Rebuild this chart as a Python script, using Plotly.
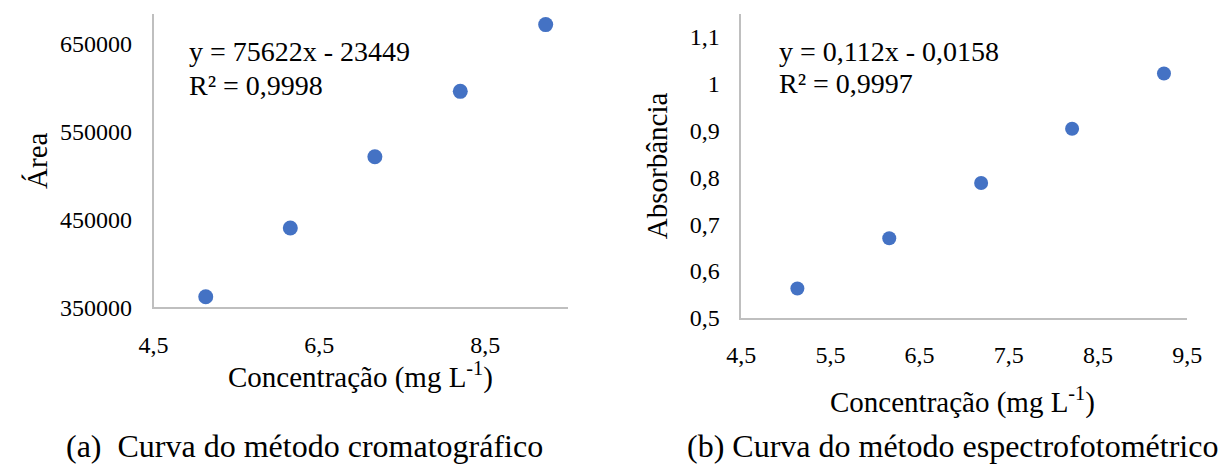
import plotly.graph_objects as go

# ---- data ----
conc_a = [5.13, 6.15, 7.17, 8.20, 9.23]
area_a = [362000, 440300, 521300, 595600, 671500]

conc_b = [5.13, 6.16, 7.19, 8.21, 9.24]
abs_b = [0.5625, 0.670, 0.788, 0.904, 1.022]

xticks_a = [4.5, 6.5, 8.5]
xtext_a = ["4,5", "6,5", "8,5"]
yticks_a = [350000, 450000, 550000, 650000]
ytext_a = ["350000", "450000", "550000", "650000"]

xticks_b = [4.5, 5.5, 6.5, 7.5, 8.5, 9.5]
xtext_b = ["4,5", "5,5", "6,5", "7,5", "8,5", "9,5"]
yticks_b = [0.5, 0.6, 0.7, 0.8, 0.9, 1.0, 1.1]
ytext_b = ["0,5", "0,6", "0,7", "0,8", "0,9", "1", "1,1"]

eq_a = ["y = 75622x - 23449", "R² = 0,9998"]
eq_b = ["y = 0,112x - 0,0158", "R² = 0,9997"]
xtitle = "Concentração (mg L<sup>-1</sup>)"
ytitle_a = "Área"
ytitle_b = "Absorbância"
cap_a = "(a)\u00a0\u00a0Curva do método cromatográfico"
cap_b = "(b)\u00a0Curva do método espectrofotométrico"

FONT = "Liberation Serif"
BLUE = "#4472C4"
AXC = "#BFBFBF"
W, H = 1220, 475

fig = go.Figure()
fig.add_trace(go.Scatter(x=conc_a, y=area_a, mode="markers",
                         marker=dict(color=BLUE, size=15), xaxis="x", yaxis="y",
                         showlegend=False, cliponaxis=False))
fig.add_trace(go.Scatter(x=conc_b, y=abs_b, mode="markers",
                         marker=dict(color=BLUE, size=14), xaxis="x2", yaxis="y2",
                         showlegend=False, cliponaxis=False))

def px(x):
    return x / W

def py(y):
    return 1 - y / H

axis_common = dict(showgrid=False, zeroline=False, showline=True, linecolor=AXC,
                   linewidth=1.5, ticks="", tickfont=dict(family=FONT, size=24, color="#000"),
                   ticklabelstandoff=15)

fig.update_layout(
    width=W, height=H, margin=dict(l=0, r=0, t=0, b=0),
    paper_bgcolor="white", plot_bgcolor="white",
    xaxis=dict(domain=[px(142), px(567)], range=[4.5, 9.5], tickvals=xticks_a,
               ticktext=xtext_a, anchor="y", **axis_common),
    yaxis=dict(domain=[py(316), py(14)], range=[350000, 684000], tickvals=yticks_a,
               ticktext=ytext_a, anchor="x", **axis_common),
    xaxis2=dict(domain=[px(744.5), px(1201.7)], range=[4.5, 9.5], tickvals=xticks_b,
                ticktext=xtext_b, anchor="y2", **axis_common),
    yaxis2=dict(domain=[py(326.7), py(14)], range=[0.5, 1.15], tickvals=yticks_b,
                ticktext=ytext_b, anchor="x2", **axis_common),
)

def ann(text, x, y, size, xanchor="left", angle=0):
    fig.add_annotation(text=text, x=px(x), y=py(y), xref="paper", yref="paper",
                       xanchor=xanchor, yanchor="middle", showarrow=False,
                       textangle=angle, align="left",
                       font=dict(family=FONT, size=size, color="#000"))

# equations
ann(eq_a[0], 176, 53, 28)
ann(eq_a[1], 176, 88, 28)
ann(eq_b[0], 781, 53, 28)
ann(eq_b[1], 781, 86, 28)
# axis titles
ann(xtitle, 354, 386, 29, xanchor="center")
ann(xtitle, 971, 412, 29, xanchor="center")
ann(ytitle_a, 23, 165, 29, xanchor="center", angle=-90)
ann(ytitle_b, 659, 170, 29, xanchor="center", angle=-90)
# captions
ann(cap_a, 50, 459, 32)
ann(cap_b, 687, 459, 32)

fig.write_html("out.html", config={"displayModeBar": False},
               post_script="document.body.style.margin='0';")
